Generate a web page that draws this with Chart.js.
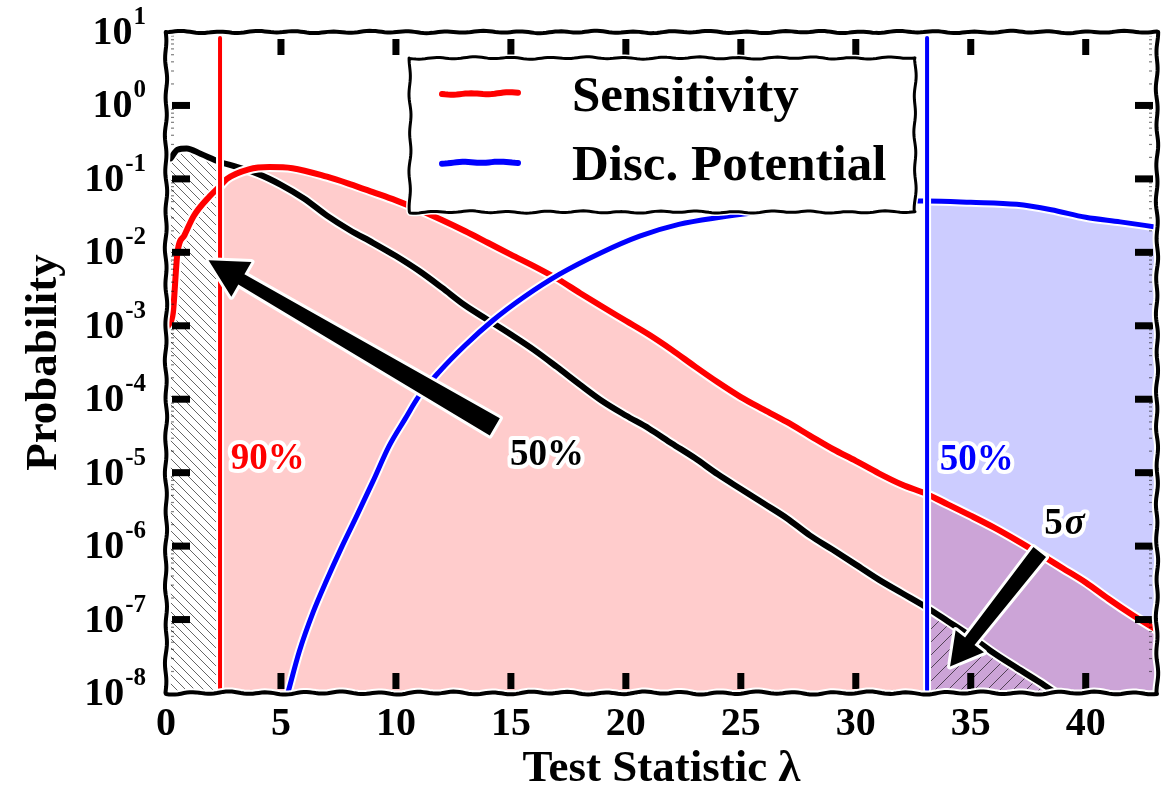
<!DOCTYPE html>
<html>
<head>
<meta charset="utf-8">
<title>Test statistic distributions</title>
<script src="https://cdn.jsdelivr.net/npm/chart.js@4.4.1/dist/chart.umd.min.js"></script>
<style>
  html, body { margin: 0; padding: 0; background: #fff; }
  canvas { display: block; }
</style>
</head>
<body>
<canvas id="canvas" width="1166" height="791"></canvas>
<script>

// background-only distribution of the test statistic
var bkgLambda = [0.2, 0.5, 0.9, 1.5, 2.35, 3, 4, 5, 6, 7, 8, 9, 10, 11, 12, 13, 14, 15, 16, 17, 18, 19, 20,
                 21, 22, 23, 24, 25, 26, 27, 28, 29, 30, 31, 32, 33.1, 34, 35, 36, 37, 38, 38.7];
var bkgProb = [0.19, 0.25, 0.26, 0.22, 0.17, 0.148, 0.117, 0.083, 0.054, 0.0316, 0.02, 0.0135, 0.0089, 0.0056,
               0.0033, 0.0019, 0.0012, 7.6e-4, 4.7e-4, 2.75e-4, 1.58e-4, 9.3e-5, 6.0e-5, 4.0e-5, 2.5e-5, 1.58e-5,
               9.5e-6, 6.0e-6, 3.8e-6, 2.4e-6, 1.4e-6, 8.9e-7, 5.6e-7, 3.5e-7, 2.3e-7, 1.45e-7, 9.5e-8,
               5.9e-8, 3.5e-8, 2.2e-8, 1.4e-8, 1.0e-8];

// signal injected at the 90% sensitivity flux
var sensLambda = [0.1, 0.3, 0.5, 0.8, 1.2, 1.9, 2.35, 2.65, 3.6, 4.5, 5.5, 7, 8, 9, 10, 11, 12, 13, 14, 15,
                  16, 17, 18, 19, 20, 21, 22, 23, 24, 25, 26, 27, 28, 29, 30, 31, 32, 33.1, 34, 35, 36, 37,
                  38, 39, 40, 41, 42, 43.1];
var sensProb = [0.001, 0.0015, 0.01, 0.017, 0.031, 0.058, 0.08, 0.1, 0.135, 0.145, 0.14, 0.107, 0.085,
                0.066, 0.051, 0.038, 0.0275, 0.0195, 0.0135, 0.0093, 0.0065, 0.0044, 0.0028, 0.0018, 0.00117,
                7.6e-4, 4.7e-4, 2.8e-4, 1.7e-4, 1.07e-4, 7.2e-5, 4.9e-5, 3.2e-5, 2.1e-5, 1.45e-5, 9.8e-6,
                6.9e-6, 5.1e-6, 3.7e-6, 2.6e-6, 1.8e-6, 1.2e-6, 7.8e-7, 5.0e-7, 3.2e-7, 1.9e-7, 1.17e-7, 7.2e-8];

// signal injected at the 5 sigma discovery potential flux
var discLambda = [5.3, 5.8, 6.4, 7.0, 7.6, 8.3, 9.0, 9.7, 10.4, 11.0, 11.9, 13.0, 14.2, 15.6, 17.1, 18.9, 20.6,
                  22.3, 24.1, 25.4, 26.5, 28, 30, 32, 33.1, 35, 37, 38.5, 40, 41.5, 43.1];
var discProb = [1e-8, 3.7e-8, 1.26e-7, 3.5e-7, 9.1e-7, 2.6e-6, 7.6e-6, 2.3e-5, 5.4e-5, 1.1e-4, 2.4e-4, 5.4e-4,
                1.17e-3, 2.5e-3, 5e-3, 9.8e-3, 0.0166, 0.024, 0.030, 0.034, 0.037, 0.042, 0.047, 0.05,
                0.05, 0.048, 0.045, 0.038, 0.030, 0.026, 0.022];

// thresholds: 50% of the background below the first, 5 sigma tail beyond the second
var sensCut = 2.35;
var discCut = 33.1;
var cutSpan = [8.3, 1.1e-8];

var xTicks = [0, 5, 10, 15, 20, 25, 30, 35, 40];
var yTicks = [1e1, 1e0, 1e-1, 1e-2, 1e-3, 1e-4, 1e-5, 1e-6, 1e-7, 1e-8];

var FONT = '"Liberation Serif", "Times New Roman", serif';

function pairs(xs, ys) {
    return xs.map(function(x, i) { return {x: x, y: ys[i]}; });
}

var bkgPts = pairs(bkgLambda, bkgProb);
var sensPts = pairs(sensLambda, sensProb);
var discPts = pairs(discLambda, discProb);

var ctx = document.getElementById("canvas").getContext("2d");

function hatch(step, dir, color) {
    var c = document.createElement('canvas');
    c.width = c.height = step;
    var g = c.getContext('2d');
    g.strokeStyle = color;
    g.lineWidth = 1;
    g.beginPath();
    for (var k = -1; k <= 2; k++) {
        if (dir == '\\') { g.moveTo(0, k * step); g.lineTo(step, (k + 1) * step); }
        else { g.moveTo(0, k * step); g.lineTo(step, (k - 1) * step); }
    }
    g.stroke();
    return ctx.createPattern(c, 'repeat');
}

function fillSet(points, color, order) {
    return {data: points, fill: 'start', backgroundColor: color, borderColor: 'rgba(0,0,0,0)',
            borderWidth: 0, pointRadius: 0, order: order, cubicInterpolationMode: 'monotone'};
}
function lineSet(points, color, width, order, label) {
    return {label: label, data: points, fill: false, borderColor: color, borderWidth: width,
            pointRadius: 0, order: order, cubicInterpolationMode: 'monotone',
            borderCapStyle: 'round', borderJoinStyle: 'round'};
}

var sensLine = [{x: sensCut, y: cutSpan[0]}, {x: sensCut, y: cutSpan[1]}];
var discLine = [{x: discCut, y: cutSpan[0]}, {x: discCut, y: cutSpan[1]}];

var legendItems = [
    {label: 'Sensitivity', color: '#ff0000'},
    {label: 'Disc. Potential', color: '#0000ff'}
];

var notes = [
    {text: '90%', x: 4.43, y: 1.5e-5, color: '#ff0000'},
    {text: '50%', x: 16.57, y: 1.7e-5, color: '#000000'},
    {text: '50%', x: 35.26, y: 1.45e-5, color: '#0000ff'}
];
var arrows = [
    {from: [14.3, 4.2e-5], to: [1.85, 7.8e-3], tail: 20, neck: 12, headL: 38, headW: 40},
    {from: [38.0, 8.3e-7], to: [34.1, 2.3e-8], tail: 16, neck: 12, headL: 32, headW: 36}
];

var datasets = [
    fillSet(sensPts.filter(function(p) { return p.x >= sensCut; }), 'rgba(255,0,0,0.2)', 30),
    fillSet(discPts.filter(function(p) { return p.x >= discCut; }), 'rgba(0,0,255,0.2)', 29),
    fillSet(bkgPts.filter(function(p) { return p.x <= sensCut; }), hatch(9, '\\', 'rgba(0,0,0,0.6)'), 28),
    fillSet(bkgPts.filter(function(p) { return p.x >= discCut; }), hatch(13, '/', 'rgba(0,0,0,0.6)'), 27),
    lineSet(bkgPts, '#ffffff', 10, 20),
    lineSet(bkgPts, '#000000', 6, 19, 'Background'),
    lineSet(sensPts, '#ffffff', 10, 18),
    lineSet(sensPts, '#ff0000', 6, 17, 'Sensitivity'),
    lineSet(discPts, '#ffffff', 9, 16),
    lineSet(discPts, '#0000ff', 5, 15, 'Disc. Potential'),
    lineSet(sensLine, '#ffffff', 8, 14),
    lineSet(sensLine, '#ff0000', 4, 13),
    lineSet(discLine, '#ffffff', 8, 12),
    lineSet(discLine, '#0000ff', 4, 11)
];

// hand drawn looking stroke between two points
function wavy(g, x0, y0, x1, y1, amp, seed, move) {
    var len = Math.hypot(x1 - x0, y1 - y0);
    var n = Math.max(2, Math.ceil(len / 3));
    var nx = -(y1 - y0) / len, ny = (x1 - x0) / len;
    for (var i = 0; i <= n; i++) {
        var t = i / n, s = t * len;
        var w = amp * (0.65 * Math.sin(s / 6 + seed) + 0.35 * Math.sin(s / 17 + seed * 2.3));
        var px = x0 + (x1 - x0) * t + nx * w, py = y0 + (y1 - y0) * t + ny * w;
        if (i == 0 && move !== false) g.moveTo(px, py); else g.lineTo(px, py);
    }
}

function wavyBox(g, l, t, r, b, amp) {
    g.beginPath();
    wavy(g, l, t, r, t, amp, 0.3);
    wavy(g, r, t, r, b, amp, 1.7, false);
    wavy(g, r, b, l, b, amp, 2.9, false);
    wavy(g, l, b, l, t, amp, 4.1, false);
    g.closePath();
}

function haloText(g, txt, x, y, color, font, align) {
    g.font = font;
    g.textAlign = align || 'center';
    g.textBaseline = 'middle';
    g.lineJoin = 'round';
    g.lineWidth = 8;
    g.strokeStyle = '#ffffff';
    g.strokeText(txt, x, y);
    g.fillStyle = color;
    g.fillText(txt, x, y);
}

function fancyArrow(g, x0, y0, x1, y1, a) {
    var dx = x1 - x0, dy = y1 - y0, L = Math.hypot(dx, dy);
    var ux = dx / L, uy = dy / L, nx = -uy, ny = ux;
    var bx = x1 - ux * a.headL, by = y1 - uy * a.headL;
    g.beginPath();
    g.moveTo(x0 + nx * a.tail / 2, y0 + ny * a.tail / 2);
    g.lineTo(bx + nx * a.neck / 2, by + ny * a.neck / 2);
    g.lineTo(bx + nx * a.headW / 2, by + ny * a.headW / 2);
    g.lineTo(x1, y1);
    g.lineTo(bx - nx * a.headW / 2, by - ny * a.headW / 2);
    g.lineTo(bx - nx * a.neck / 2, by - ny * a.neck / 2);
    g.lineTo(x0 - nx * a.tail / 2, y0 - ny * a.tail / 2);
    g.closePath();
    g.lineJoin = 'round';
    g.lineWidth = 6;
    g.strokeStyle = '#ffffff';
    g.stroke();
    g.fillStyle = '#000000';
    g.fill();
}

var decorations = {
    id: 'decorations',
    afterDatasetsDraw: function(chart) {
        var g = chart.ctx, ca = chart.chartArea;
        var xs = chart.scales.x, ys = chart.scales.y;
        g.save();

        // minor ticks of the log axis
        g.fillStyle = 'rgba(0,0,0,0.5)';
        for (var d = -8; d < 1; d++) {
            for (var m = 2; m < 10; m++) {
                var py = ys.getPixelForValue(m * Math.pow(10, d));
                g.fillRect(ca.left + 5, py, 3, 1.2);
                g.fillRect(ca.right - 8, py, 3, 1.2);
            }
        }

        // major ticks, pointing inwards
        g.fillStyle = '#000000';
        xTicks.forEach(function(v) {
            if (v == 0) return;
            var px = xs.getPixelForValue(v);
            g.fillRect(px - 3.5, ca.bottom - 20, 7, 16);
            g.fillRect(px - 3.5, ca.top + 7, 7, 16);
        });
        yTicks.forEach(function(v) {
            if (v == 10 || v == 1e-8) return;
            var py = ys.getPixelForValue(v);
            g.fillRect(ca.left + 6, py - 3.5, 18, 7);
            g.fillRect(ca.right - 22, py - 3.5, 18, 7);
        });

        // frame
        g.lineCap = 'round';
        [['#ffffff', 8], ['#000000', 4]].forEach(function(s) {
            g.strokeStyle = s[0];
            g.lineWidth = s[1];
            g.beginPath(); wavy(g, ca.left, ca.bottom, ca.right, ca.bottom, 1.6, 0.5); g.stroke();
            g.beginPath(); wavy(g, ca.left, ca.top, ca.right, ca.top, 1.2, 2.1); g.stroke();
            g.beginPath(); wavy(g, ca.left, ca.top, ca.left, ca.bottom, 1.2, 3.3); g.stroke();
            g.beginPath(); wavy(g, ca.right, ca.top, ca.right, ca.bottom, 1.2, 4.7); g.stroke();
        });

        // arrows and labels
        arrows.forEach(function(a) {
            fancyArrow(g, xs.getPixelForValue(a.from[0]), ys.getPixelForValue(a.from[1]),
                       xs.getPixelForValue(a.to[0]), ys.getPixelForValue(a.to[1]), a);
        });
        notes.forEach(function(n) {
            haloText(g, n.text, xs.getPixelForValue(n.x), ys.getPixelForValue(n.y), n.color,
                     'bold 37px ' + FONT);
        });
        var sx = xs.getPixelForValue(39.09), sy = ys.getPixelForValue(2e-6);
        haloText(g, '5', sx - 2, sy, '#000000', 'bold 37px ' + FONT, 'right');
        haloText(g, 'σ', sx, sy, '#000000', 'italic bold 37px ' + FONT, 'left');

        // legend
        var l = ca.left + 244, t = ca.top + 26, r = ca.left + 749, b = ca.top + 180;
        wavyBox(g, l, t, r, b, 1.2);
        g.fillStyle = '#ffffff';
        g.fill();
        g.lineWidth = 6;
        g.strokeStyle = '#ffffff';
        g.stroke();
        g.lineWidth = 3;
        g.strokeStyle = '#000000';
        g.stroke();
        legendItems.forEach(function(item, i) {
            var cy = t + 36 + i * 69;
            g.beginPath();
            wavy(g, l + 32, cy, l + 108, cy - 1, 1.0, i * 1.3);
            g.lineWidth = 6;
            g.lineCap = 'round';
            g.strokeStyle = item.color;
            g.stroke();
            g.font = 'bold 51px ' + FONT;
            g.textAlign = 'left';
            g.textBaseline = 'alphabetic';
            g.fillStyle = '#000000';
            g.fillText(item.label, l + 162, cy + 17);
        });
        g.restore();
    },
    afterDraw: function(chart) {
        // decade labels with raised exponents
        var g = chart.ctx, ys = chart.scales.y;
        var right = chart.chartArea.left - 20;
        g.save();
        g.fillStyle = '#000000';
        g.textBaseline = 'alphabetic';
        g.textAlign = 'right';
        yTicks.forEach(function(v) {
            var py = ys.getPixelForValue(v);
            var ex = String(Math.round(Math.log10(v)));
            g.font = 'bold 25px ' + FONT;
            var ew = g.measureText(ex).width;
            g.fillText(ex, right, py - 8);
            g.font = 'bold 40px ' + FONT;
            g.fillText('10', right - ew - 1, py + 12);
        });
        g.restore();
    }
};

window.myChart = new Chart(ctx, {
    type: 'line',
    data: {datasets: datasets},
    plugins: [decorations],
    options: {
        responsive: false,
        animation: false,
        events: [],
        parsing: false,
        layout: {padding: {top: 32, right: 9, left: 0, bottom: 0}},
        plugins: {legend: {display: false}, tooltip: {enabled: false}},
        scales: {
            x: {
                type: 'linear', min: 0, max: 43.1,
                afterBuildTicks: function(s) { s.ticks = xTicks.map(function(v) { return {value: v}; }); },
                afterFit: function(s) { s.height = 98; },
                grid: {display: false, drawTicks: false},
                border: {display: false},
                ticks: {color: '#000', padding: 8, maxRotation: 0, autoSkip: false,
                        font: {family: FONT, size: 40, weight: 'bold'}},
                title: {display: true, text: 'Test Statistic λ', color: '#000',
                        font: {family: FONT, size: 45, weight: 'bold', lineHeight: 1},
                        padding: {top: 0, bottom: -1}}
            },
            y: {
                type: 'logarithmic', min: 1e-8, max: 10,
                afterBuildTicks: function(s) { s.ticks = yTicks.map(function(v) { return {value: v}; }); },
                afterFit: function(s) { s.width = 166; },
                grid: {display: false, drawTicks: false},
                border: {display: false},
                ticks: {display: false},
                title: {display: true, text: 'Probability', color: '#000',
                        font: {family: FONT, size: 45, weight: 'bold', lineHeight: 1},
                        padding: {top: 22, bottom: 0}}
            }
        }
    }
});
</script>
</body>
</html>
